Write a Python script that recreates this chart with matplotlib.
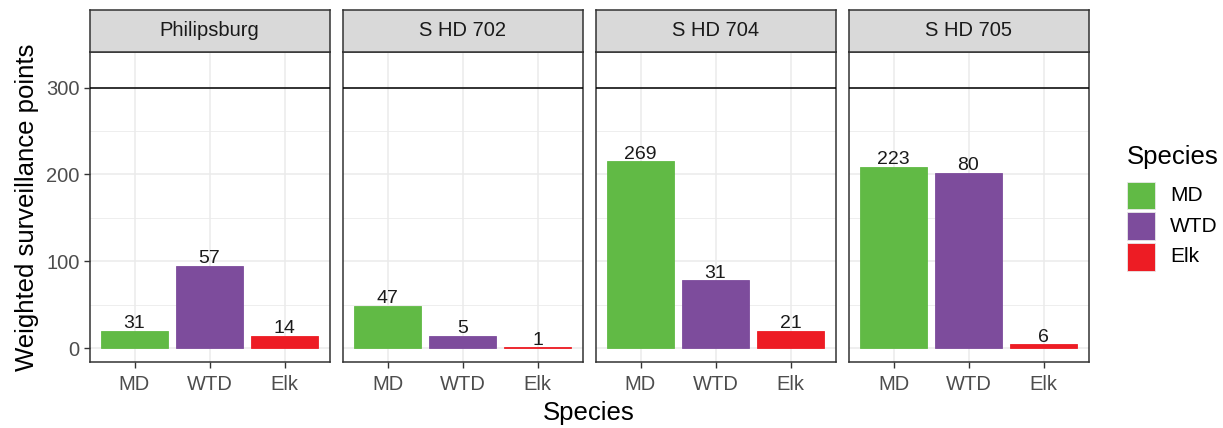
import matplotlib
matplotlib.use("Agg")
import matplotlib.pyplot as plt
from matplotlib.patches import Rectangle

# ---- data ----
facets = ["Philipsburg", "S HD 702", "S HD 704", "S HD 705"]
species = ["MD", "WTD", "Elk"]
points = {
    "Philipsburg": [20, 95, 14],
    "S HD 702": [49, 14, 1],
    "S HD 704": [215, 78, 20],
    "S HD 705": [209, 202, 4.5],
}
counts = {
    "Philipsburg": [31, 57, 14],
    "S HD 702": [47, 5, 1],
    "S HD 704": [269, 31, 21],
    "S HD 705": [223, 80, 6],
}
target = 300
yticks = [0, 100, 200, 300]
colors = {"MD": "#61BA45", "WTD": "#7D4C9C", "Elk": "#ED1C24"}

W, H = 1223, 428
fig = plt.figure(figsize=(W / 100, H / 100), dpi=100)
plt.rcParams['font.family'] = ['Liberation Sans', 'DejaVu Sans']

def ax_rect(x0, y0, x1, y1):
    return [x0 / W, 1 - y1 / H, (x1 - x0) / W, (y1 - y0) / H]

panel_left = [89.5, 342.5, 595.5, 848.5]
pw = 240
ptop, pbot = 51.7, 362.3
stop = 10

ymin, ymax = -16.25, 341.25
grid_c = "#EBEBEB"
border_c = "#333333"

fs_tick = 14.5
fs_title = 18.5
fs_strip = 14.5
fs_bar = 14

for i, f in enumerate(facets):
    x0 = panel_left[i]
    ax = fig.add_axes(ax_rect(x0, ptop, x0 + pw, pbot))
    ax.set_xlim(0.4, 3.6)
    ax.set_ylim(ymin, ymax)
    for yv in [50, 150, 250]:
        ax.axhline(yv, color=grid_c, lw=0.6, zorder=0)
    for yv in yticks:
        ax.axhline(yv, color=grid_c, lw=1.1, zorder=0)
    for xv in [1, 2, 3]:
        ax.axvline(xv, color=grid_c, lw=1.1, zorder=0)
    xs = [1, 2, 3]
    cols = [colors[s] for s in species]
    ax.bar(xs, points[f], width=0.9, color=cols,
           edgecolor=cols, linewidth=0.6, zorder=2)
    for x, v, c in zip(xs, points[f], counts[f]):
        ax.text(x, v - 1.5, str(c), ha="center", va="bottom", fontsize=fs_bar,
                color="#1A1A1A", zorder=3)
    ax.axhline(target, color="black", lw=1.1, zorder=3)
    ax.set_xticks(xs)
    ax.set_xticklabels(species, fontsize=fs_tick, color="#4D4D4D")
    ax.set_yticks(yticks)
    if i == 0:
        ax.set_yticklabels([str(t) for t in yticks], fontsize=fs_tick, color="#4D4D4D")
        ax.set_ylabel("Weighted surveillance points", fontsize=fs_title, color="black", labelpad=5)
        ax.tick_params(axis="y", length=4, color=border_c, width=1, pad=3)
    else:
        ax.tick_params(axis="y", length=0, labelleft=False)
    ax.tick_params(axis="x", length=4, color=border_c, width=1, pad=5)
    for sp in ax.spines.values():
        sp.set_color(border_c)
        sp.set_linewidth(1.1)
    ax.set_facecolor("white")
    # strip
    sax = fig.add_axes(ax_rect(x0, stop, x0 + pw, ptop))
    sax.set_xticks([]); sax.set_yticks([])
    sax.set_facecolor("#D9D9D9")
    for sp in sax.spines.values():
        sp.set_color(border_c)
        sp.set_linewidth(1.1)
    sax.text(0.5, 0.5, f, ha="center", va="center", fontsize=fs_strip, color="#1A1A1A",
             transform=sax.transAxes)

# x axis title
fig.text((panel_left[0] + panel_left[-1] + pw) / 2 / W, 1 - 413 / H, "Species",
         ha="center", va="center", fontsize=fs_title, color="black")

# legend
fig.text(1127 / W, 1 - 157 / H, "Species", ha="left", va="center", fontsize=fs_title, color="black")
key_tops = [182, 212.5, 243]
for s, kt in zip(species, key_tops):
    r = Rectangle((1127 / W, 1 - (kt + 27.5) / H), 28 / W, 27.5 / H,
                  transform=fig.transFigure, facecolor=colors[s], edgecolor="#E8E8E8", lw=0.6)
    fig.patches.append(r)
    fig.text(1170 / W, 1 - (kt + 14) / H, s, ha="left", va="center", fontsize=15, color="black")

fig.savefig("out.png", dpi=100)
